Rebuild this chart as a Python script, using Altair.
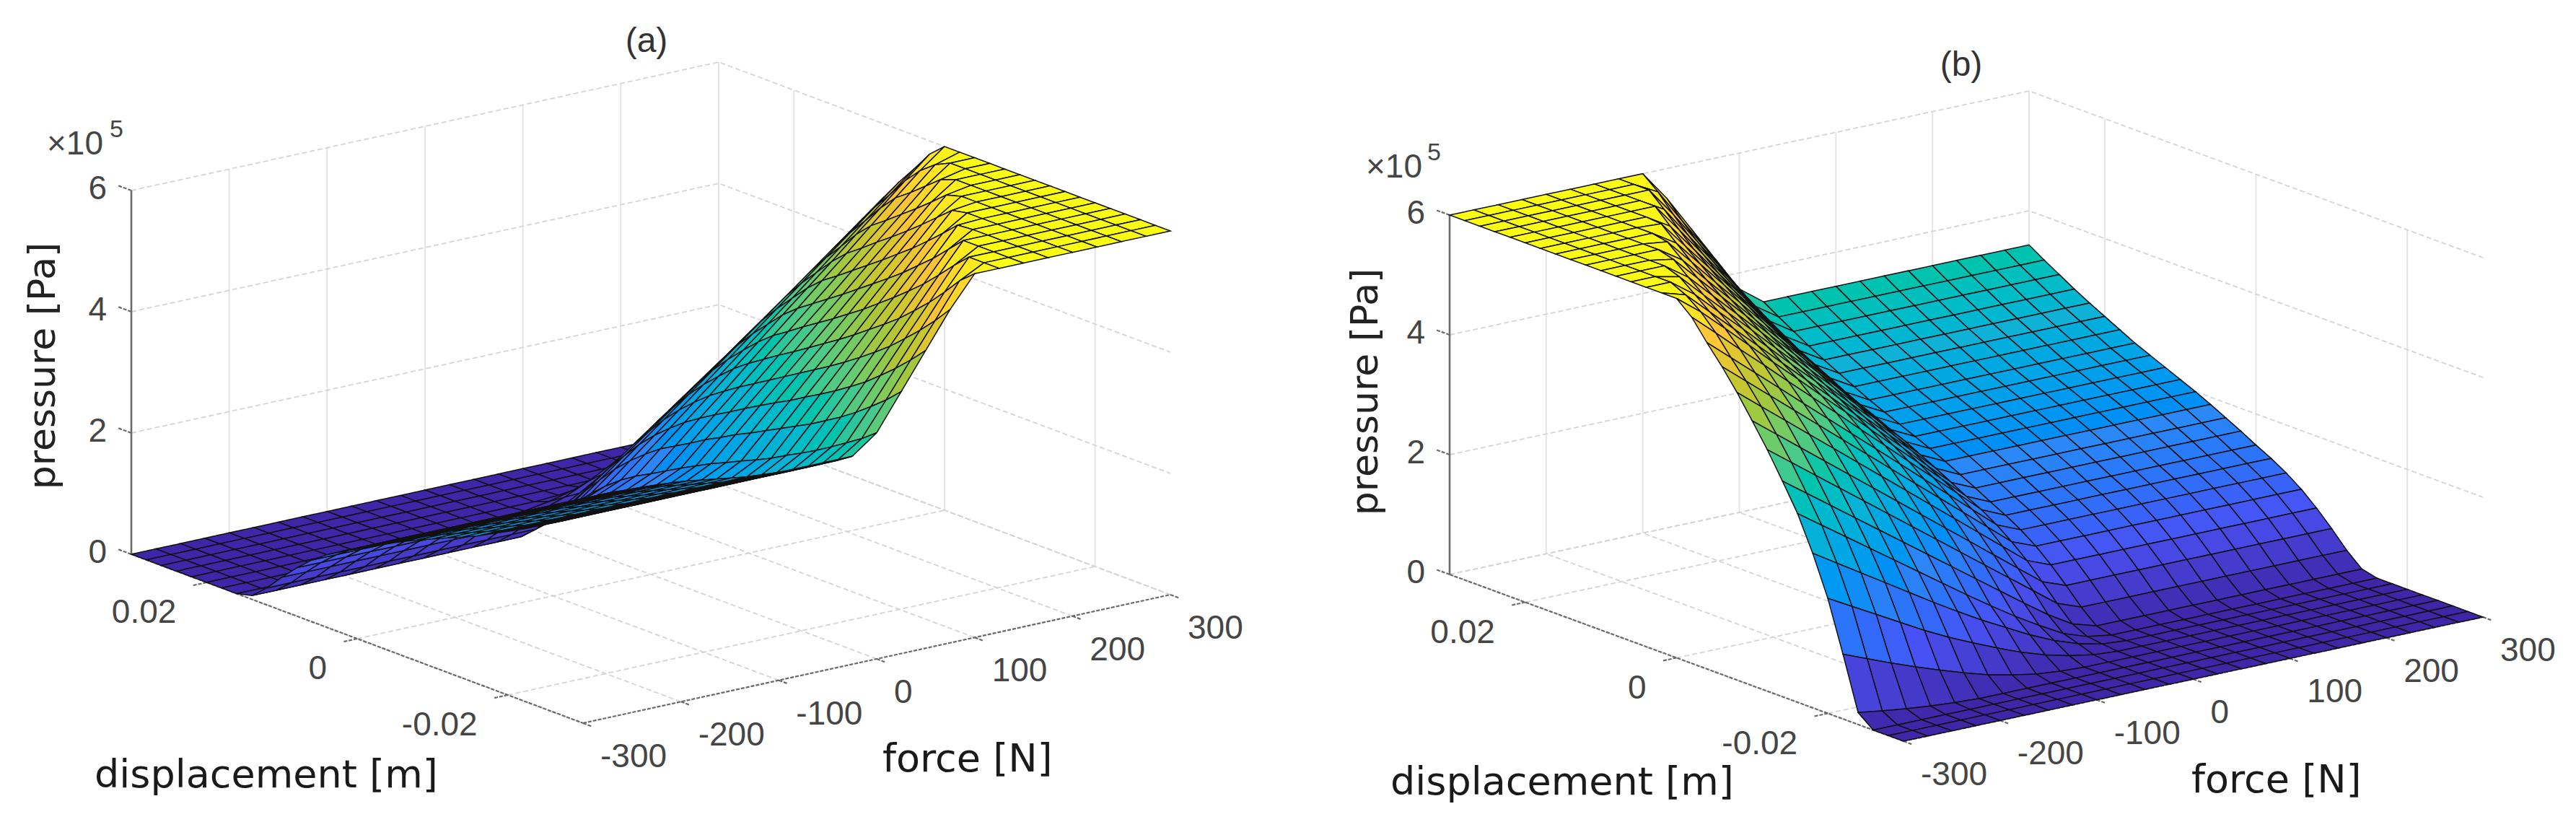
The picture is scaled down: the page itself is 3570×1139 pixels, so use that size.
import altair as alt
import pandas as pd

force = [-300, -275, -250, -225, -200, -175, -150, -125, -100, -75, -50, -25, 0,
         25, 50, 75, 100, 125, 150, 175, 200, 225, 250, 275, 300]
displacement = [0.03, 0.028, 0.026, 0.024, 0.022, 0.02, 0.018, 0.016, 0.014, 0.012, 0.01,
                0.008, 0.006, 0.004, 0.002, 0, -0.002, -0.004, -0.006, -0.008, -0.01,
                -0.012, -0.014, -0.016, -0.018, -0.02, -0.022, -0.024, -0.026, -0.028, -0.03]

# pressure in 1e5 Pa, panel (b): one row per displacement, columns -300 ... 0 read
# individually, then the flat stretch from 25 N to 300 N
pressure = [
    [6, 6, 6, 6, 6, 6, 6, 6, 6, 5.5, 4.91, 4.32, 3.73] + [3.43] * 12,
    [6, 6, 6, 6, 6, 6, 6, 6, 5.79, 5.22, 4.66, 4.09, 3.54] + [3.27] * 12,
    [6, 6, 6, 6, 6, 6, 6, 6, 5.51, 4.97, 4.43, 3.89, 3.38] + [3.12] * 12,
    [6, 6, 6, 6, 6, 6, 6, 5.77, 5.25, 4.74, 4.22, 3.7, 3.22] + [2.97] * 12,
    [6, 6, 6, 6, 6, 6, 6, 5.52, 5.02, 4.52, 4.02, 3.53, 3.07] + [2.83] * 12,
    [6, 6, 6, 6, 6, 6, 5.76, 5.28, 4.8, 4.33, 3.85, 3.38, 2.93] + [2.7] * 12,
    [6, 6, 6, 6, 6, 5.98, 5.52, 5.07, 4.61, 4.15, 3.69, 3.23, 2.8] + [2.57] * 12,
    [6, 6, 6, 6, 6, 5.75, 5.31, 4.87, 4.43, 3.98, 3.54, 3.1, 2.66] + [2.44] * 12,
    [6, 6, 6, 6, 5.95, 5.53, 5.1, 4.68, 4.25, 3.82, 3.4, 2.97, 2.54] + [2.33] * 12,
    [6, 6, 6, 6, 5.74, 5.32, 4.91, 4.49, 4.08, 3.67, 3.25, 2.84, 2.43] + [2.22] * 12,
    [6, 6, 6, 5.93, 5.53, 5.13, 4.73, 4.32, 3.92, 3.52, 3.12, 2.71, 2.31] + [2.11] * 12,
    [6, 6, 6, 5.72, 5.33, 4.94, 4.55, 4.15, 3.76, 3.37, 2.98, 2.59, 2.2] + [2.0] * 12,
    [6, 6, 5.91, 5.52, 5.14, 4.76, 4.37, 3.99, 3.6, 3.22, 2.84, 2.45, 2.07] + [1.88] * 12,
    [6, 6, 5.71, 5.33, 4.96, 4.58, 4.2, 3.83, 3.45, 3.07, 2.69, 2.32, 1.94] + [1.75] * 12,
    [6, 5.88, 5.51, 5.14, 4.77, 4.4, 4.03, 3.66, 3.29, 2.92, 2.55, 2.17, 1.8] + [1.62] * 12,
    [6, 5.69, 5.33, 4.96, 4.59, 4.23, 3.86, 3.5, 3.13, 2.76, 2.4, 2.03, 1.66] + [1.48] * 12,
    [5.78, 5.43, 5.07, 4.72, 4.36, 4.01, 3.66, 3.3, 2.95, 2.59, 2.24, 1.89, 1.53] + [1.35] * 12,
    [5.45, 5.11, 4.77, 4.43, 4.09, 3.75, 3.41, 3.07, 2.73, 2.39, 2.05, 1.71, 1.37] + [1.2] * 12,
    [5.14, 4.81, 4.48, 4.15, 3.82, 3.49, 3.16, 2.83, 2.5, 2.17, 1.84, 1.51, 1.18] + [1.02] * 12,
    [4.8, 4.48, 4.16, 3.84, 3.52, 3.2, 2.88, 2.56, 2.24, 1.92, 1.6, 1.28, 0.96] + [0.8] * 12,
    [4.42, 4.11, 3.8, 3.49, 3.18, 2.87, 2.56, 2.25, 1.94, 1.63, 1.32, 1.01, 0.7] + [0.55] * 12,
    [4.03, 3.73, 3.43, 3.13, 2.83, 2.53, 2.23, 1.93, 1.63, 1.33, 1.03, 0.73, 0.43] + [0.28] * 12,
    [3.6, 3.31, 3.02, 2.73, 2.44, 2.15, 1.86, 1.57, 1.28, 0.99, 0.7, 0.42, 0.18] + [0.06] * 12,
    [3.15, 2.87, 2.59, 2.31, 2.03, 1.75, 1.47, 1.19, 0.92, 0.66, 0.42, 0.2, 0.06] + [0] * 12,
    [2.58, 2.33, 2.08, 1.83, 1.58, 1.33, 1.09, 0.86, 0.65, 0.44, 0.26, 0.12, 0.03] + [0] * 12,
    [1.92, 1.7, 1.48, 1.26, 1.04, 0.84, 0.66, 0.49, 0.33, 0.2, 0.1, 0.03, 0] + [0] * 12,
    [1.08, 0.92, 0.76, 0.61, 0.47, 0.34, 0.22, 0.13, 0.06, 0.02, 0, 0, 0] + [0] * 12,
    [0.2, 0.14, 0.09, 0.05, 0.02, 0, 0, 0, 0, 0, 0, 0, 0] + [0] * 12,
    [0] * 25,
    [0] * 25,
    [0] * 25,
]

force_ticks = [-300, -200, -100, 0, 100, 200, 300]
disp_ticks = [0.02, 0, -0.02]
disp_labels = ["0.02", "0", "-0.02"]
press_ticks = [0, 2, 4, 6]

parula_pos = [0, 0.84, 1.8, 2.76, 3.6, 4.56, 5.4, 6]
parula_col = ["#3e26a8", "#4852f4", "#2d87f7", "#12b1d6", "#37c897", "#abc739", "#fec338", "#f9fb15"]

W, H = 3554, 1123
M = 8
panels = {
    "a": dict(o=(182, 768), dv=(626, 234), fv=(814, -178), zu=84.0),
    "b": dict(o=(2009, 796), dv=(629, 231), fv=(803, -172), zu=83.0),
}


def proj(pan, f, d, p):
    g = panels[pan]
    s = (f + 300) / 600
    t = (0.03 - d) / 0.06
    return [g["o"][0] + g["fv"][0] * s + g["dv"][0] * t - M,
            g["o"][1] + g["fv"][1] * s + g["dv"][1] * t - g["zu"] * p - M]


def line(coords):
    return {"type": "Feature", "properties": {},
            "geometry": {"type": "LineString", "coordinates": coords}}


def surface(pan):
    n = len(force)
    rows = pressure
    if pan == "a":  # panel (a) is the point mirror of panel (b)
        rows = [r[::-1] for r in pressure[::-1]]
    feats = []
    for i in range(len(displacement) - 1):      # far rows first
        for j in range(n - 2, -1, -1):
            c = [(i, j), (i, j + 1), (i + 1, j + 1), (i + 1, j)]
            pts = [proj(pan, force[b], displacement[a], rows[a][b]) for a, b in c]
            val = sum(rows[a][b] for a, b in c) / 4
            feats.append({"type": "Feature", "properties": {"p": val},
                          "geometry": {"type": "Polygon", "coordinates": [pts + [pts[0]]]}})
    return feats


identity = dict(type="identity", scale=1, translate=[0, 0])


def geo_lines(feats, color, width, dash=None):
    kw = dict(filled=False, stroke=color, strokeWidth=width)
    if dash:
        kw["strokeDash"] = dash
    return alt.Chart(alt.Data(values=feats)).mark_geoshape(**kw).project(**identity)


def texts(rows, size, color, font, align="center", angle=0):
    return alt.Chart(pd.DataFrame(rows)).mark_text(
        fontSize=size, color=color, font=font, align=align, baseline="middle", angle=angle
    ).encode(x=alt.X("px:Q", scale=None, axis=None),
             y=alt.Y("py:Q", scale=None, axis=None),
             text="t:N")


SANS = "Liberation Sans"
DEJA = "DejaVu Sans"
layers = []
label_rows = {"z": [], "d": [], "f": []}
for pan in panels:
    fmin, fmax, dmin, dmax, zmax = -300, 300, -0.03, 0.03, 6
    verticals, flats = [], []
    for f in force_ticks:
        flats.append(line([proj(pan, f, dmin, 0), proj(pan, f, dmax, 0)]))
        verticals.append(line([proj(pan, f, dmax, 0), proj(pan, f, dmax, zmax)]))
    for d in disp_ticks + [dmax]:
        flats.append(line([proj(pan, fmin, d, 0), proj(pan, fmax, d, 0)]))
        verticals.append(line([proj(pan, fmax, d, 0), proj(pan, fmax, d, zmax)]))
    for p in press_ticks:
        flats.append(line([proj(pan, fmin, dmax, p), proj(pan, fmax, dmax, p), proj(pan, fmax, dmin, p)]))
    layers.append(geo_lines(verticals, "#e4e4e4", 2))
    layers.append(geo_lines(flats, "#d4d4d4", 1.8, [7, 4]))
    axes = [line([proj(pan, fmin, dmax, 0), proj(pan, fmin, dmin, 0)]),
            line([proj(pan, fmin, dmin, 0), proj(pan, fmax, dmin, 0)])]
    for d in disp_ticks:
        axes.append(line([proj(pan, fmin, d, 0), proj(pan, fmin - 14, d, 0)]))
    for f in force_ticks:
        axes.append(line([proj(pan, f, dmin, 0), proj(pan, f, dmin - 0.0012, 0)]))
    for p in press_ticks:
        axes.append(line([proj(pan, fmin, dmax, p), proj(pan, fmin, dmax + 0.0017, p)]))
    layers.append(geo_lines(axes, "#6a6a6a", 2.2, [5, 2]))
    zax = [line([proj(pan, fmin, dmax, 0), proj(pan, fmin, dmax, zmax)])]
    layers.append(geo_lines(zax, "#6a6a6a", 2.6))
    layers.append(
        alt.Chart(alt.Data(values=surface(pan))).mark_geoshape(stroke="#111111", strokeWidth=1.5)
        .encode(color=alt.Color("properties.p:Q", legend=None,
                                scale=alt.Scale(domain=parula_pos, range=parula_col)))
        .project(**identity))
    for p in press_ticks:
        x, y = proj(pan, fmin, dmax, p)
        label_rows["z"].append(dict(px=x - 34, py=y - 2, t=str(p)))
    for d, lab in zip(disp_ticks, disp_labels):
        x, y = proj(pan, fmin, d, 0)
        label_rows["d"].append(dict(px=x - 42, py=y + 42, t=lab))
    for f in force_ticks:
        x, y = proj(pan, f, dmin, 0)
        label_rows["f"].append(dict(px=x + 24, py=y + 47, t=str(f)))

TICKC = "#454545"
layers.append(texts(label_rows["z"], 46, TICKC, SANS, "right"))
layers.append(texts(label_rows["d"], 46, TICKC, SANS, "right"))
layers.append(texts(label_rows["f"], 46, TICKC, SANS, "left"))

LABC = "#1a1a1a"
layers.append(texts([dict(px=896 - M, py=58 - M, t="(a)"), dict(px=2718 - M, py=91 - M, t="(b)")],
                    48, "#333333", SANS))
layers.append(texts([dict(px=131 - M, py=1075 - M, t="displacement [m]"),
                     dict(px=1927 - M, py=1085 - M, t="displacement [m]"),
                     dict(px=1223 - M, py=1053 - M, t="force [N]"),
                     dict(px=3037 - M, py=1082 - M, t="force [N]")],
                    54, LABC, DEJA, "left"))
layers.append(texts([dict(px=60 - M, py=507 - M, t="pressure [Pa]"),
                     dict(px=1893 - M, py=543 - M, t="pressure [Pa]")],
                    52, "#222222", DEJA, "center", 270))
layers.append(texts([dict(px=65 - M, py=200 - M, t="×10"), dict(px=1893 - M, py=232 - M, t="×10")],
                    46, TICKC, SANS, "left"))
layers.append(texts([dict(px=152 - M, py=180 - M, t="5"), dict(px=1978 - M, py=212 - M, t="5")],
                    34, TICKC, SANS, "left"))

chart = alt.layer(*layers).properties(width=W, height=H, padding=0, background="white",
                                      autosize=alt.AutoSizeParams(type="none")).configure_view(stroke=None)
chart.save("out.html", embed_options={"renderer": "svg", "actions": False})
